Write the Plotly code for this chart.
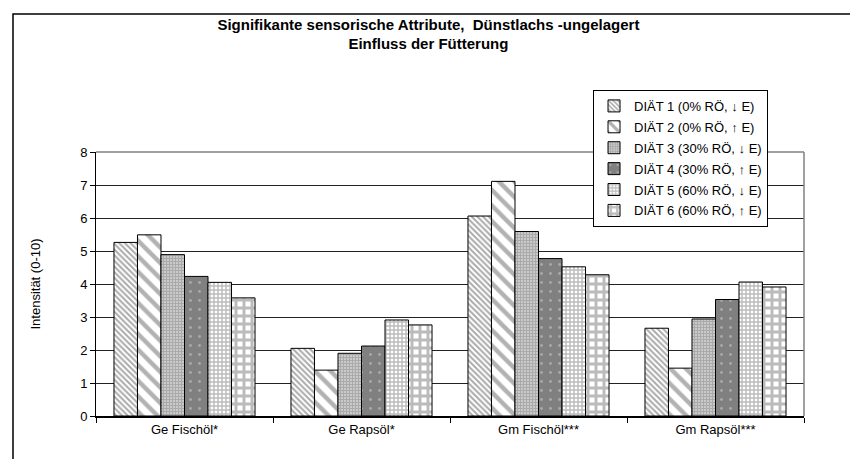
import plotly.graph_objects as go

categories = ["Ge Fischöl*", "Ge Rapsöl*", "Gm Fischöl***", "Gm Rapsöl***"]
series_names = [
    "DIÄT 1 (0% RÖ, ↓ E)",
    "DIÄT 2 (0% RÖ, ↑ E)",
    "DIÄT 3 (30% RÖ, ↓ E)",
    "DIÄT 4 (30% RÖ, ↑ E)",
    "DIÄT 5 (60% RÖ, ↓ E)",
    "DIÄT 6 (60% RÖ, ↑ E)",
]
diaet1 = [5.26, 2.05, 6.06, 2.66]
diaet2 = [5.49, 1.39, 7.11, 1.45]
diaet3 = [4.89, 1.90, 5.59, 2.94]
diaet4 = [4.23, 2.12, 4.77, 3.53]
diaet5 = [4.05, 2.91, 4.52, 4.06]
diaet6 = [3.58, 2.76, 4.28, 3.91]
values = [diaet1, diaet2, diaet3, diaet4, diaet5, diaet6]
y_ticks = [0, 1, 2, 3, 4, 5, 6, 7, 8]

patterns = [
    dict(shape="\\", bgcolor="#ffffff", fgcolor="#555555", size=4, solidity=0.5),
    dict(shape="\\", bgcolor="#ffffff", fgcolor="#666666", size=11, solidity=0.4),
    dict(shape="+", bgcolor="#cccccc", fgcolor="#888888", size=3, solidity=0.6),
    dict(shape=".", bgcolor="#808080", fgcolor="#cfcfcf", size=9, solidity=0.08),
    dict(shape="+", bgcolor="#ffffff", fgcolor="#7a7a7a", size=4, solidity=0.6),
    dict(shape="+", bgcolor="#ffffff", fgcolor="#777777", size=8, solidity=0.6),
]

fig = go.Figure()
for i, (name, vals) in enumerate(zip(series_names, values)):
    fig.add_trace(go.Bar(
        x=categories, y=vals, name=name,
        legendgroup=f"g{i}",
        marker=dict(color=patterns[i]["bgcolor"], pattern=patterns[i],
                    line=dict(color="#000000", width=1)),
    ))

fig.update_layout(
    width=858, height=459,
    margin=dict(l=88, r=62, t=144, b=51),
    paper_bgcolor="white", plot_bgcolor="white",
    barmode="group", bargap=0.203, bargroupgap=0,
    font=dict(family="Arial, Liberation Sans, sans-serif", size=13, color="#000000"),
    title=dict(
        text="<b>Signifikante sensorische Attribute,  Dünstlachs -ungelagert<br>Einfluss der Fütterung</b>",
        x=0.49, xanchor="center", xref="container", y=0.953, yanchor="top",
        font=dict(size=15, color="#000000"),
    ),
    showlegend=True,
    legend=dict(
        x=0.702, y=1.235, xanchor="left", yanchor="top",
        bordercolor="#000000", borderwidth=1, bgcolor="white",
        font=dict(size=13), traceorder="grouped", tracegroupgap=1,
        itemwidth=30,
    ),
    xaxis=dict(
        showline=True, linecolor="#000000", linewidth=2,
        ticks="outside", tickson="boundaries", ticklen=5, tickcolor="#000000",
        showgrid=False, mirror=False, tickfont=dict(size=13),
    ),
    yaxis=dict(
        range=[0, 8], tickvals=y_ticks, showline=True, linecolor="#000000", linewidth=1,
        ticks="outside", ticklen=5, tickcolor="#000000",
        showgrid=True, gridcolor="#222222", gridwidth=1,
        tickfont=dict(size=13),
        title=dict(text="Intensität (0-10)", standoff=36, font=dict(size=13)),
        zeroline=False,
    ),
    shapes=[
        dict(type="line", xref="paper", yref="paper", x0=1, x1=1, y0=0, y1=1,
             line=dict(color="#808080", width=1.5)),
        dict(type="line", xref="paper", yref="paper", x0=0, x1=1, y0=1, y1=1,
             line=dict(color="#808080", width=1.5)),
        dict(type="rect", xref="paper", yref="paper",
             x0=(5 - 88) / 708, x1=1.2, y0=(408 - 470) / 264, y1=(408 - 6) / 264,
             line=dict(color="#000000", width=1.5), fillcolor="rgba(0,0,0,0)"),
    ],
)

fig.write_html("out.html")
